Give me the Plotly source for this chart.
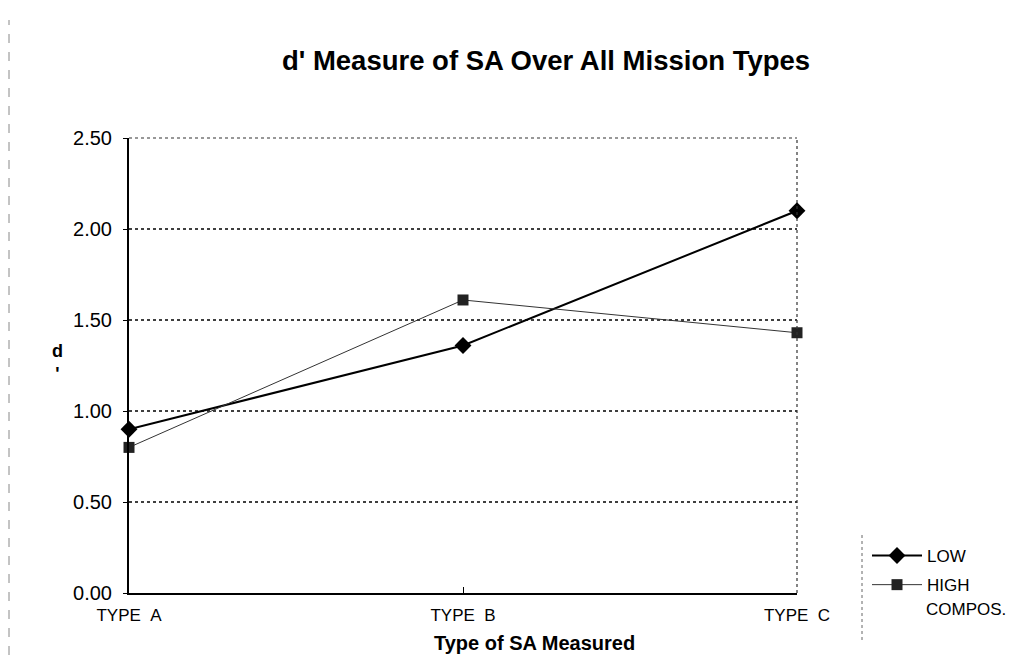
import plotly.graph_objects as go

categories = ["TYPE\u00a0\u00a0A", "TYPE\u00a0\u00a0B", "TYPE\u00a0\u00a0C"]
low_values = [0.90, 1.36, 2.10]
high_values = [0.80, 1.61, 1.43]
y_ticks = [0.0, 0.5, 1.0, 1.5, 2.0, 2.5]
y_ticklabels = ["0.00", "0.50", "1.00", "1.50", "2.00", "2.50"]

x_pos = list(range(len(categories)))

# screen geometry (page body has an 8px margin)
W, H = 1005, 651
L, T, PW, PH = 121, 130, 668, 455


def px(sx):
    return (sx - 129) / PW


def py(sy):
    return (593 - sy) / PH


fig = go.Figure()
fig.add_trace(go.Scatter(
    x=x_pos, y=low_values, name="LOW", mode="lines+markers", legendgroup="a",
    line=dict(color="black", width=2),
    marker=dict(symbol="diamond", size=13, color="black"),
    cliponaxis=False,
))
fig.add_trace(go.Scatter(
    x=x_pos, y=high_values, name="HIGH", mode="lines+markers", legendgroup="b",
    line=dict(color="#333", width=1),
    marker=dict(symbol="square", size=11, color="#222"),
    cliponaxis=False,
))

# dotted gridlines (top one is the frame)
for v in y_ticks[1:-1]:
    fig.add_shape(type="line", xref="paper", yref="y", x0=0, x1=1, y0=v, y1=v,
                  line=dict(color="black", width=1.5, dash="dot"), layer="below")
# top and right frame (thin dotted)
fig.add_shape(type="line", xref="paper", yref="paper", x0=0, x1=1, y0=1, y1=1,
              line=dict(color="#333", width=1.2, dash="dot"))
fig.add_shape(type="line", xref="paper", yref="paper", x0=1, x1=1, y0=0, y1=1,
              line=dict(color="#333", width=1.2, dash="dot"))
# legend left border (dashed)
fig.add_shape(type="line", xref="paper", yref="paper", x0=px(862), x1=px(862),
              y0=py(640), y1=py(535), line=dict(color="#666", width=1, dash="dot"))
# scanned page border at far left
fig.add_shape(type="line", xref="paper", yref="paper", x0=px(9), x1=px(9),
              y0=py(655), y1=py(20), line=dict(color="#888", width=1, dash="dash"))

fig.update_layout(
    width=W, height=H,
    margin=dict(l=L, r=W - L - PW, t=T, b=H - T - PH),
    paper_bgcolor="white", plot_bgcolor="white",
    font=dict(family="Liberation Sans, Arial, sans-serif", color="black", size=16),
    title=dict(text="<b>d' Measure of SA Over All Mission Types</b>",
               xref="container", yref="container",
               x=(546 - 8) / W, xanchor="center", y=1 - (60 - 8) / H, yanchor="middle",
               font=dict(size=27.5)),
    showlegend=True,
    legend=dict(x=px(867), xanchor="left", y=py(538), yanchor="top",
                bgcolor="rgba(0,0,0,0)", font=dict(size=17),
                traceorder="grouped", tracegroupgap=4, itemwidth=50),
    xaxis=dict(range=[0, 2], tickvals=x_pos, ticktext=categories, showgrid=False,
               zeroline=False, showline=True, linecolor="black", linewidth=2,
               ticks="inside", ticklen=6, tickcolor="black", automargin=False,
               tickfont=dict(size=17), ticklabelstandoff=6),
    yaxis=dict(range=[0, 2.5], tickvals=y_ticks, ticktext=y_ticklabels, showgrid=False,
               zeroline=False, showline=True, linecolor="black", linewidth=2,
               ticks="outside", ticklen=4, tickcolor="black", automargin=False,
               tickfont=dict(size=20), ticklabelstandoff=7),
)

fig.add_annotation(x=px(534), y=py(643), xref="paper", yref="paper",
                   text="<b>Type of SA Measured</b>", showarrow=False,
                   font=dict(size=20), xanchor="center", yanchor="middle")
fig.add_annotation(x=px(57), y=py(362), xref="paper", yref="paper",
                   text="<b>d</b><br><b>'</b>", showarrow=False,
                   font=dict(size=18), xanchor="center", yanchor="middle")
fig.add_annotation(x=px(924), y=py(609), xref="paper", yref="paper",
                   text="COMPOS.", showarrow=False, font=dict(size=17),
                   xanchor="left", yanchor="middle")

fig.write_html("out.html")
